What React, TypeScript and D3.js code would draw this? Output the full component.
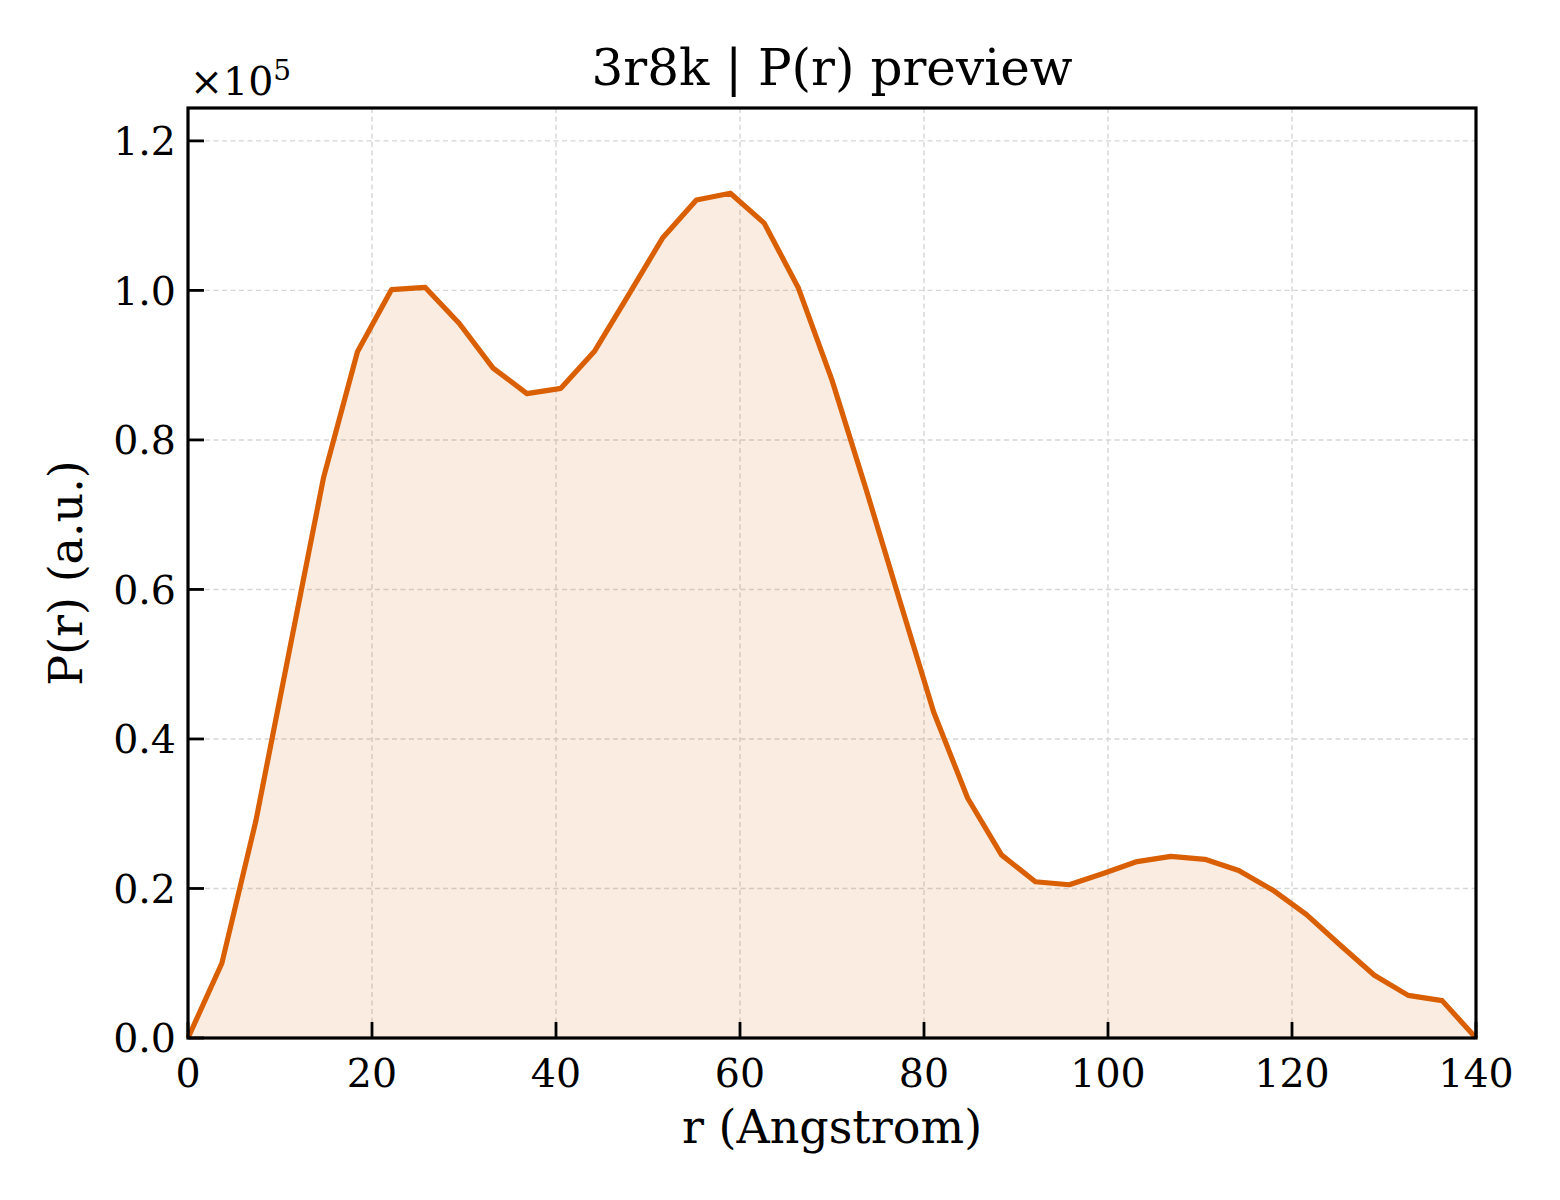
import * as d3 from "d3";
import { useRef, useEffect } from "react";

// r (Angstrom) sample points
const rValues = [
  0, 3.68, 7.37, 11.05, 14.74, 18.42, 22.11, 25.79, 29.47, 33.16, 36.84, 40.53,
  44.21, 47.89, 51.58, 55.26, 58.95, 62.63, 66.32, 70.0, 73.68, 77.37, 81.05,
  84.74, 88.42, 92.11, 95.79, 99.47, 103.16, 106.84, 110.53, 114.21, 117.89,
  121.58, 125.26, 128.95, 132.63, 136.32, 140.0,
];

// P(r) in a.u.
const pValues = [
  0, 10000, 29000, 52000, 75000, 91800, 100100, 100400, 95600, 89600, 86200,
  86900, 91900, 99400, 107000, 112100, 113000, 109000, 100400, 88000, 73500,
  58500, 43600, 32100, 24500, 20900, 20500, 22000, 23600, 24300, 23900, 22400,
  19800, 16500, 12400, 8400, 5700, 5000, 0,
];

const xTicks = [0, 20, 40, 60, 80, 100, 120, 140];
const yTicks = [0, 0.2, 0.4, 0.6, 0.8, 1.0, 1.2];

const WIDTH = 1560;
const HEIGHT = 1200;
const FONT = "'DejaVu Serif', serif";
const LINE_COLOR = "#d95f02";
const TICK_FONT = 39.5;
const LABEL_FONT = 46;

function PrChart() {
  const svgRef = useRef<SVGSVGElement>(null);

  useEffect(() => {
    if (!svgRef.current) return;
    const svg = d3.select(svgRef.current);
    svg.selectAll("*").remove();

    const left = 188,
      right = 1476,
      top = 108,
      bottom = 1038;
    const x = d3.scaleLinear([0, 140], [left, right]);
    const y = d3.scaleLinear([0, 124400], [bottom, top]);

    svg.append("rect").attr("width", WIDTH).attr("height", HEIGHT).attr("fill", "#fff");

    // grid
    const grid = svg.append("g").attr("stroke", "#d6d6d6").attr("stroke-width", 1.4).attr("stroke-dasharray", "5,3.5");
    xTicks.forEach((t) => {
      grid.append("line").attr("x1", x(t)).attr("x2", x(t)).attr("y1", top).attr("y2", bottom);
    });
    yTicks.forEach((t) => {
      grid.append("line").attr("x1", left).attr("x2", right).attr("y1", y(t * 1e5)).attr("y2", y(t * 1e5));
    });

    const idx = d3.range(rValues.length);

    // fill under the curve
    svg
      .append("path")
      .attr(
        "d",
        d3
          .area<number>()
          .x((i) => x(rValues[i]))
          .y0(y(0))
          .y1((i) => y(pValues[i]))(idx)
      )
      .attr("fill", LINE_COLOR)
      .attr("fill-opacity", 0.12);

    // line
    svg
      .append("path")
      .attr(
        "d",
        d3
          .line<number>()
          .x((i) => x(rValues[i]))
          .y((i) => y(pValues[i]))(idx)
      )
      .attr("fill", "none")
      .attr("stroke", LINE_COLOR)
      .attr("stroke-width", 5.2)
      .attr("stroke-linejoin", "round");

    // ticks (inward) and labels
    const ticks = svg.append("g").attr("stroke", "#000").attr("stroke-width", 2.8);
    xTicks.forEach((t) => {
      ticks.append("line").attr("x1", x(t)).attr("x2", x(t)).attr("y1", bottom).attr("y2", bottom - 16);
      svg
        .append("text")
        .attr("x", x(t))
        .attr("y", 1087)
        .attr("text-anchor", "middle")
        .attr("font-family", FONT)
        .attr("font-size", TICK_FONT)
        .text(String(t));
    });
    yTicks.forEach((t) => {
      ticks.append("line").attr("x1", left).attr("x2", left + 16).attr("y1", y(t * 1e5)).attr("y2", y(t * 1e5));
      svg
        .append("text")
        .attr("x", 176)
        .attr("y", y(t * 1e5))
        .attr("dy", "0.36em")
        .attr("text-anchor", "end")
        .attr("font-family", FONT)
        .attr("font-size", TICK_FONT)
        .text(t.toFixed(1));
    });

    // frame
    svg
      .append("rect")
      .attr("x", left)
      .attr("y", top)
      .attr("width", right - left)
      .attr("height", bottom - top)
      .attr("fill", "none")
      .attr("stroke", "#000")
      .attr("stroke-width", 3.2);

    // offset text
    const off = svg
      .append("text")
      .attr("x", 190)
      .attr("y", 95)
      .attr("font-family", FONT)
      .attr("font-size", TICK_FONT);
    off.append("tspan").text("×10");
    off.append("tspan").attr("dy", -15).attr("font-size", 28).text("5");

    // title and axis labels
    svg
      .append("text")
      .attr("x", (left + right) / 2)
      .attr("y", 85)
      .attr("text-anchor", "middle")
      .attr("font-family", FONT)
      .attr("font-size", 50)
      .text("3r8k | P(r) preview");
    svg
      .append("text")
      .attr("x", (left + right) / 2)
      .attr("y", 1143)
      .attr("text-anchor", "middle")
      .attr("font-family", FONT)
      .attr("font-size", LABEL_FONT)
      .text("r (Angstrom)");
    svg
      .append("text")
      .attr("transform", `translate(82,${(top + bottom) / 2}) rotate(-90)`)
      .attr("text-anchor", "middle")
      .attr("font-family", FONT)
      .attr("font-size", LABEL_FONT)
      .text("P(r) (a.u.)");
  }, []);

  return <svg ref={svgRef} width={WIDTH} height={HEIGHT} style={{ display: "block" }} />;
}

export default function App() {
  return (
    <div style={{ position: "absolute", left: 0, top: 0 }}>
      <PrChart />
    </div>
  );
}
